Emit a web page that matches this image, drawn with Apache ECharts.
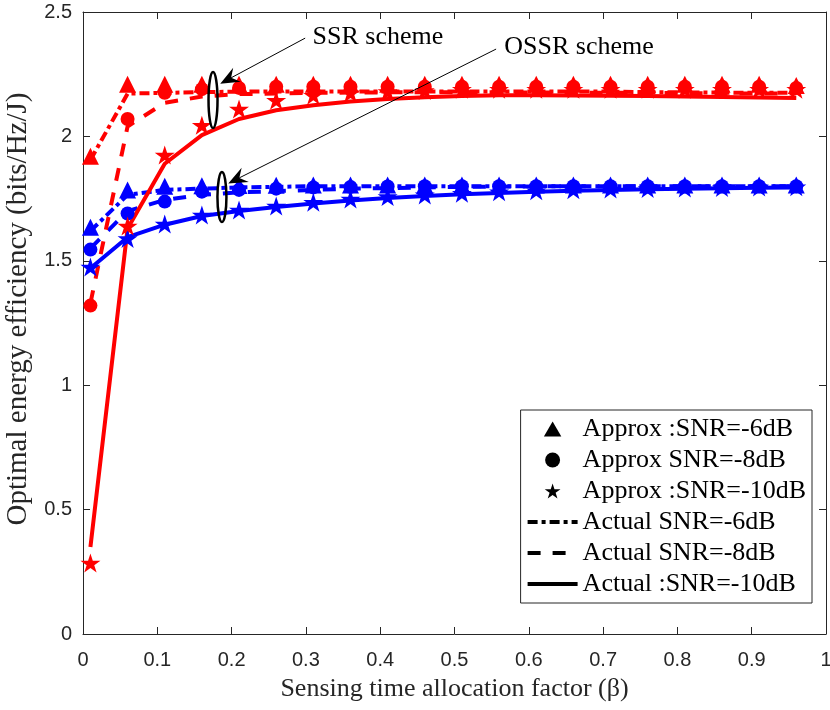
<!DOCTYPE html>
<html>
<head>
<meta charset="utf-8">
<script src="https://cdn.jsdelivr.net/npm/echarts@6/dist/echarts.min.js"></script>
<style>html,body{margin:0;padding:0;background:#fff;}#c{width:830px;height:710px;}</style>
</head>
<body>
<div id="c"></div>
<script>
// ---- data ----
const beta = [0.01,0.06,0.11,0.16,0.21,0.26,0.31,0.36,0.41,0.46,0.51,0.56,0.61,0.66,0.71,0.76,0.81,0.86,0.91,0.96];

// SSR (red)
const redApprox6  = [1.92,2.21,2.21,2.21,2.21,2.21,2.21,2.21,2.21,2.21,2.21,2.21,2.21,2.21,2.21,2.21,2.21,2.21,2.21,2.205];
const redApprox8  = [1.32,2.07,2.175,2.19,2.195,2.20,2.20,2.20,2.20,2.20,2.20,2.20,2.20,2.20,2.20,2.20,2.20,2.20,2.20,2.195];
const redApprox10 = [0.285,1.64,1.925,2.045,2.11,2.145,2.165,2.175,2.18,2.185,2.19,2.19,2.19,2.19,2.19,2.19,2.19,2.19,2.19,2.19];
const redActual6  = [1.905,2.172,2.175,2.178,2.18,2.18,2.18,2.18,2.18,2.18,2.18,2.18,2.18,2.18,2.18,2.178,2.177,2.176,2.175,2.175];
const redActual8  = [1.33,2.04,2.135,2.16,2.17,2.172,2.175,2.176,2.177,2.177,2.177,2.177,2.176,2.176,2.175,2.175,2.174,2.173,2.172,2.172];
const redActual10 = [0.35,1.63,1.89,2.005,2.07,2.105,2.125,2.14,2.15,2.157,2.162,2.165,2.165,2.164,2.163,2.162,2.16,2.158,2.156,2.154];

// OSSR (blue)
const blueApprox6  = [1.635,1.785,1.80,1.802,1.803,1.804,1.805,1.805,1.805,1.805,1.805,1.805,1.805,1.805,1.805,1.805,1.805,1.805,1.805,1.805];
const blueApprox8  = [1.545,1.69,1.738,1.778,1.785,1.79,1.795,1.797,1.799,1.80,1.80,1.80,1.80,1.80,1.80,1.80,1.80,1.80,1.80,1.80];
const blueApprox10 = [1.475,1.59,1.648,1.684,1.704,1.72,1.735,1.748,1.758,1.765,1.772,1.778,1.782,1.786,1.789,1.791,1.793,1.795,1.797,1.798];
const blueActual6  = [1.62,1.765,1.785,1.79,1.795,1.797,1.80,1.80,1.80,1.80,1.80,1.80,1.80,1.80,1.80,1.80,1.80,1.80,1.80,1.80];
const blueActual8  = [1.55,1.70,1.745,1.765,1.775,1.78,1.785,1.79,1.792,1.795,1.797,1.798,1.799,1.80,1.80,1.80,1.80,1.80,1.80,1.80];
const blueActual10 = [1.47,1.595,1.645,1.68,1.70,1.716,1.73,1.742,1.752,1.76,1.767,1.773,1.778,1.782,1.785,1.788,1.79,1.792,1.794,1.795];

const legendNames = ['Approx :SNR=-6dB','Approx SNR=-8dB','Approx :SNR=-10dB','Actual SNR=-6dB','Actual SNR=-8dB','Actual :SNR=-10dB'];
const xTicks = {min:0, max:1, interval:0.1};
const yTicks = {min:0, max:2.5, interval:0.5};

// annotation anchors in data coordinates
const annotations = [
  {text:'SSR scheme', textPos:[0.309,2.40], lineStart:[0.299,2.395], tip:[0.1847,2.212], ellipse:[0.175,2.146], ry:28},
  {text:'OSSR scheme', textPos:[0.567,2.36], lineStart:[0.556,2.351], tip:[0.1955,1.811], ellipse:[0.187,1.756], ry:25}
];

// ---- styles ----
const RED = '#ff0000', BLUE = '#0000ff', AX = '#262626';
const STAR = 'path://M50 0 L61.23 34.55 L97.55 34.55 L68.17 55.9 L79.39 90.45 L50 69.1 L20.61 90.45 L31.83 55.9 L2.45 34.55 L38.77 34.55 Z';
const TRI = 'path://M50 0 L100 86 L0 86 Z';
const DASHDOT = [10,4,4,4];
const DASH = [13,12];

function pairs(ys){ return beta.map((x,i)=>[x, ys[i]]); }
function lineS(name, ys, color, type, hideSym){
  return {name:name, type:'line', data:pairs(ys), symbol:'none', lineStyle:{color:color, width:4, type:type},
    itemStyle:{color:color, opacity: hideSym ? 0 : 1}, z:2, silent:true};
}
function scatS(name, ys, color, symbol, size){
  return {name:name, type:'scatter', data:pairs(ys), symbol:symbol, symbolSize:size, symbolKeepAspect:true, itemStyle:{color:color, opacity:1}, z:3, silent:true};
}

const series = [
  // legend-only (black)
  scatS(legendNames[0], [], '#000', TRI, 17),
  scatS(legendNames[1], [], '#000', 'circle', 14),
  scatS(legendNames[2], [], '#000', STAR, 20),
  lineS(legendNames[3], [], '#000', DASHDOT, true),
  lineS(legendNames[4], [], '#000', DASH, true),
  lineS(legendNames[5], [], '#000', 'solid', true),
  // blue (OSSR)
  lineS('b6', blueActual6, BLUE, DASHDOT),
  lineS('b8', blueActual8, BLUE, DASH),
  lineS('b10', blueActual10, BLUE, 'solid'),
  scatS('bA6', blueApprox6, BLUE, 'triangle', 17),
  scatS('bA8', blueApprox8, BLUE, 'circle', 14),
  scatS('bA10', blueApprox10, BLUE, STAR, 20),
  // red (SSR)
  lineS('r6', redActual6, RED, DASHDOT),
  lineS('r8', redActual8, RED, DASH),
  lineS('r10', redActual10, RED, 'solid'),
  scatS('rA6', redApprox6, RED, 'triangle', 17),
  scatS('rA8', redApprox8, RED, 'circle', 14),
  scatS('rA10', redApprox10, RED, STAR, 20)
];

const tickLabel = {color:AX, fontFamily:'Liberation Sans', fontSize:20};
function xAx(pos, showLabel){
  return {type:'value', position:pos, min:xTicks.min, max:xTicks.max, interval:xTicks.interval,
    axisLine:{show:true, onZero:false, lineStyle:{color:AX, width:1}},
    axisTick:{show:true, inside:true, length:7, lineStyle:{color:AX}},
    axisLabel:Object.assign({show:showLabel, margin:16}, tickLabel),
    splitLine:{show:false},
    name: showLabel ? 'Sensing time allocation factor (\u03B2)' : '',
    nameLocation:'middle', nameGap:42,
    nameTextStyle:{fontFamily:'Liberation Serif', fontSize:26, color:AX}};
}
function yAx(pos, showLabel){
  return {type:'value', position:pos, min:yTicks.min, max:yTicks.max, interval:yTicks.interval,
    axisLine:{show:true, onZero:false, lineStyle:{color:AX, width:1}},
    axisTick:{show:true, inside:true, length:7, lineStyle:{color:AX}},
    axisLabel:Object.assign({show:showLabel, margin:11}, tickLabel),
    splitLine:{show:false},
    name: showLabel ? 'Optimal energy efficiency (bits/Hz/J)' : '',
    nameLocation:'middle', nameGap:43,
    nameTextStyle:{fontFamily:'Liberation Serif', fontSize:29, color:AX, padding:[0,0,0,28]}};
}

const chart = echarts.init(document.getElementById('c'), null, {renderer:'canvas'});
chart.setOption({
  animation:false,
  backgroundColor:'#fff',
  grid:{left:83, right:4, top:12, bottom:76, containLabel:false, outerBoundsMode:'none'},
  xAxis:[xAx('bottom', true), xAx('top', false)],
  yAxis:[yAx('left', true), yAx('right', false)],
  legend:{
    orient:'vertical', right:18, top:410,
    padding:[6,6,6,5], itemWidth:50, itemHeight:15, itemGap:5,
    borderColor:AX, borderWidth:1, backgroundColor:'#fff',
    selectedMode:false,
    lineStyle:{width:4},
    textStyle:{fontFamily:'Liberation Serif', fontSize:26, color:'#000'},
    data:legendNames
  },
  series:series
});

// annotations (ellipses + arrows + text), positioned through the axes
const g = [];
annotations.forEach(a=>{
  const c = chart.convertToPixel({xAxisIndex:0, yAxisIndex:0}, a.ellipse);
  g.push({type:'ellipse', shape:{cx:c[0], cy:c[1], rx:4.5, ry:a.ry}, style:{fill:null, stroke:'#000', lineWidth:2.5}, z:10});
  const s = chart.convertToPixel({xAxisIndex:0, yAxisIndex:0}, a.lineStart);
  const t = chart.convertToPixel({xAxisIndex:0, yAxisIndex:0}, a.tip);
  const dx = t[0]-s[0], dy = t[1]-s[1], L = Math.hypot(dx,dy);
  const ux = dx/L, uy = dy/L, nx = -uy, ny = ux;
  const HL = 19, HW = 8;
  const bx = t[0]-HL*ux, by = t[1]-HL*uy;
  const mx = t[0]-0.65*HL*ux, my = t[1]-0.65*HL*uy;
  g.push({type:'line', shape:{x1:s[0], y1:s[1], x2:mx, y2:my}, style:{stroke:'#000', lineWidth:1}, z:10});
  g.push({type:'polygon', shape:{points:[[t[0],t[1]],[bx+HW*nx,by+HW*ny],[mx,my],[bx-HW*nx,by-HW*ny]]}, style:{fill:'#000'}, z:10});
  const p = chart.convertToPixel({xAxisIndex:0, yAxisIndex:0}, a.textPos);
  g.push({type:'text', x:p[0], y:p[1], style:{text:a.text, font:'26px "Liberation Serif"', fill:'#000', textAlign:'left', textVerticalAlign:'middle'}, z:10});
});
chart.setOption({graphic:g});
</script>
</body>
</html>
